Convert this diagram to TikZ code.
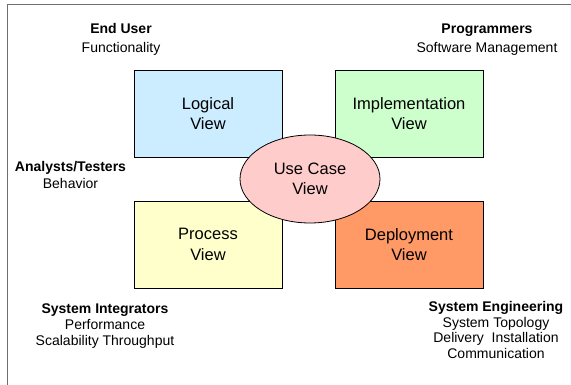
\documentclass[tikz,border=0pt]{standalone}
\usepackage{fontspec}
\setmainfont{Liberation Sans}
\usetikzlibrary{shapes.geometric}

\definecolor{logicalfill}{RGB}{204,236,255}
\definecolor{implfill}{RGB}{204,255,204}
\definecolor{procfill}{RGB}{255,255,204}
\definecolor{deployfill}{RGB}{255,153,102}
\definecolor{usecasefill}{RGB}{255,204,204}
\definecolor{framegray}{RGB}{110,110,110}

\tikzset{
  viewbox/.style={draw=black, line width=0.8pt, minimum width=148pt,
    minimum height=87pt, inner sep=0pt, align=center,
    font=\fontsize{16.5}{20.5}\selectfont},
  usecase/.style={ellipse, draw=black, line width=0.8pt, fill=usecasefill,
    minimum width=140pt, minimum height=88pt, inner sep=0pt, align=center,
    font=\fontsize{16.5}{20.5}\selectfont},
  % multi-line notes: the base anchor sits on the last line's baseline
  note/.style={anchor=base, inner sep=0pt, align=center},
}

\begin{document}
\begin{tikzpicture}[x=1pt, y=-1pt]
  \useasboundingbox (0,0) rectangle (571,385);

  % outer frame (only the left and top edges show)
  \draw[framegray, line width=1pt] (7,385) -- (7,5) -- (571,5);

  % the four views
  \node[viewbox, fill=logicalfill] (logical) at (208,113.5) {Logical\\View};
  \node[viewbox, fill=implfill]    (impl)    at (409,113.5) {Implementation\\View};
  \node[viewbox, fill=procfill]    (process) at (208,244.5) {Process\\View};
  \node[viewbox, fill=deployfill]  (deploy)  at (409,244.5) {Deployment\\View};

  % central use case view
  \node[usecase] (usecase) at (310,179) {Use Case\\View};

  % stakeholder notes
  \node[note, font=\fontsize{14}{19}\selectfont] (enduser) at (121,53)
    {\textbf{End User}\\Functionality};
  \node[note, font=\fontsize{14}{19}\selectfont] (programmers) at (487,53)
    {\textbf{Programmers}\\Software Management};
  \node[note, font=\fontsize{14}{17.5}\selectfont] (analysts) at (70.5,189)
    {\textbf{Analysts/Testers}\\Behavior};
  \node[note, font=\fontsize{14}{16}\selectfont] (integrators) at (105,345)
    {\textbf{System Integrators}\\Performance\\Scalability Throughput};
  \node[note, font=\fontsize{14}{15.5}\selectfont] (engineering) at (496,358.3)
    {\textbf{System Engineering}\\System Topology\\Delivery~ Installation\\Communication};
\end{tikzpicture}
\end{document}
